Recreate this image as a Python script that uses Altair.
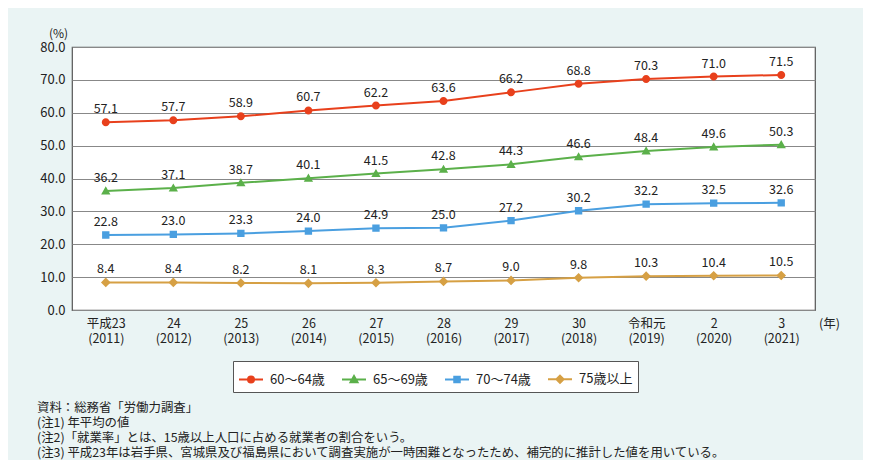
import altair as alt
import pandas as pd

years = ["平成23|(2011)", "24|(2012)", "25|(2013)", "26|(2014)", "27|(2015)", "28|(2016)",
         "29|(2017)", "30|(2018)", "令和元|(2019)", "2|(2020)", "3|(2021)"]
series = ["60～64歳", "65～69歳", "70～74歳", "75歳以上"]
v60 = [57.1, 57.7, 58.9, 60.7, 62.2, 63.6, 66.2, 68.8, 70.3, 71.0, 71.5]
v65 = [36.2, 37.1, 38.7, 40.1, 41.5, 42.8, 44.3, 46.6, 48.4, 49.6, 50.3]
v70 = [22.8, 23.0, 23.3, 24.0, 24.9, 25.0, 27.2, 30.2, 32.2, 32.5, 32.6]
v75 = [8.4, 8.4, 8.2, 8.1, 8.3, 8.7, 9.0, 9.8, 10.3, 10.4, 10.5]
colors = ["#e8401c", "#5bb04a", "#4a9fe0", "#d6a044"]
notes = [
    "資料：総務省「労働力調査」",
    "(注1)  年平均の値",
    "(注2)「就業率」とは、15歳以上人口に占める就業者の割合をいう。",
    "(注3)  平成23年は岩手県、宮城県及び福島県において調査実施が一時困難となったため、補完的に推計した値を用いている。",
]

rows = []
for s, vals in zip(series, [v60, v65, v70, v75]):
    for y, v in zip(years, vals):
        rows.append({"year": y, "series": s, "value": v})
df = pd.DataFrame(rows)

line_seg = "M-1,0L1,0"
shapes = [
    line_seg + "M0,-0.25A0.25,0.25,0,1,1,0,0.25A0.25,0.25,0,1,1,0,-0.25Z",
    line_seg + "M0,-0.29L0.29,0.22L-0.29,0.22Z",
    line_seg + "M-0.23,-0.23H0.23V0.23H-0.23Z",
    line_seg + "M0,-0.3L0.3,0L0,0.3L-0.3,0Z",
]

FONT = "Noto Sans CJK JP"

x_enc = alt.X("year:N", sort=years, scale=alt.Scale(type="point", padding=0.5),
              axis=alt.Axis(title="(年)", titleAngle=0, titleX=757, titleY=7,
                            titleFontWeight="normal", titleFontSize=12.5, titleFont=FONT,
                            titleColor="#222",
                            labelExpr="split(datum.value, '|')", labelAngle=0,
                            labelFontSize=12.5, labelColor="#222", labelFont=FONT,
                            labelLineHeight=15, labelPadding=7, ticks=False, domain=False,
                            grid=False))
y_enc = alt.Y("value:Q", scale=alt.Scale(domain=[0, 80], nice=False),
              axis=alt.Axis(values=[0, 10, 20, 30, 40, 50, 60, 70, 80], format=".1f",
                            title="(%)", titleAngle=0, titleX=-14, titleY=-7,
                            titleFontWeight="normal", titleFontSize=12, titleFont=FONT,
                            titleColor="#222",
                            labelFontSize=13, labelColor="#222", labelFont=FONT,
                            labelPadding=7, ticks=False, domain=False,
                            grid=True, gridColor="#888", gridWidth=1))

color_scale = alt.Scale(domain=series, range=colors)
shape_scale = alt.Scale(domain=series, range=shapes)

legend = alt.Legend(title=None, orient="none", legendX=161, legendY=314,
                    direction="horizontal", symbolSize=576, labelFontSize=13,
                    labelFont=FONT, labelColor="#222", labelOffset=6,
                    columnPadding=13, padding=5, strokeColor="#555",
                    fillColor="#ffffff", symbolOpacity=1, symbolStrokeWidth=2)

base = alt.Chart(df)

lines = base.mark_line(strokeWidth=2).encode(
    x=x_enc, y=y_enc,
    color=alt.Color("series:N", scale=color_scale, legend=legend),
    detail="series:N",
)

points = base.mark_point(filled=True, size=1024, strokeWidth=0, opacity=1).encode(
    x=x_enc, y=y_enc,
    color=alt.Color("series:N", scale=color_scale, legend=legend),
    shape=alt.Shape("series:N", scale=shape_scale, legend=legend),
)

labels = base.mark_text(dy=-13, fontSize=12.5, color="#222", font=FONT).encode(
    x=x_enc, y=y_enc,
    text=alt.Text("value:Q", format=".1f"),
)

notes_df = pd.DataFrame({"note": ["\n".join(notes)]})
note_layer = alt.Chart(notes_df).mark_text(
    align="left", baseline="top", fontSize=12.4, color="#222", font=FONT,
    lineBreak="\n", lineHeight=15
).encode(
    x=alt.value(-35),
    y=alt.value(355),
    text="note:N",
)

chart = alt.layer(lines, points, labels, note_layer).properties(
    width=743, height=263,
    autosize=alt.AutoSizeParams(type="none"),
    padding={"left": 64, "top": 39, "right": 48, "bottom": 150},
    background="#eaf4f4",
).configure_view(
    stroke="#555", strokeWidth=1.2, fill="#ffffff"
)

chart.save("out.html", embed_options={"renderer": "svg", "actions": False})
